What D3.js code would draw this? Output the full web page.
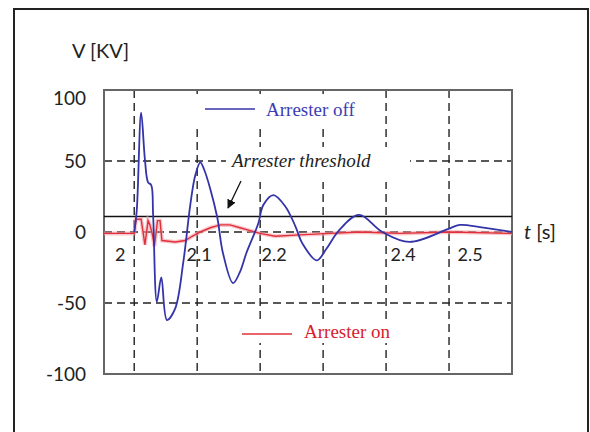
<!DOCTYPE html>
<html>
<head>
<meta charset="utf-8">
<script src="https://cdn.jsdelivr.net/npm/d3@7"></script>
<style>
  body { margin: 0; background: #fff; }
  svg { display: block; }
</style>
</head>
<body>
<svg id="chart" width="590" height="432"></svg>
<script>
// Data (time in s, voltage in kV)
const offTime = [2.0, 2.004, 2.011, 2.017, 2.022, 2.027, 2.030, 2.036, 2.043, 2.052, 2.065, 2.078, 2.089, 2.097, 2.105, 2.111, 2.121, 2.132, 2.141, 2.157, 2.168, 2.178, 2.197, 2.205, 2.221, 2.240, 2.256, 2.267, 2.290, 2.305, 2.325, 2.357, 2.394, 2.437, 2.498, 2.517, 2.549, 2.6];
const offVolt = [0, 15, 84, 51, 35, 33, 12, -49, -32, -62, -54, -21, 19, 40, 49, 44, 30, 10, -15, -36, -28, -15, 6, 19, 26, 18, 4, -8, -20, -12, 1, 12, 0, -7, 2, 5, 3.5, 0];

const onTime = [1.952, 2.0, 2.003, 2.011, 2.017, 2.022, 2.025, 2.029, 2.032, 2.037, 2.041, 2.044, 2.065, 2.081, 2.092, 2.105, 2.121, 2.137, 2.152, 2.168, 2.184, 2.2, 2.224, 2.263, 2.311, 2.359, 2.422, 2.502, 2.6];
const onVolt = [-1, -1, 9, 9, -9, 8, 5, -2, -10, 8, 8, -6, -7, -6, -3, 0, 3, 5, 5, 3, 1, -1, -3, -2, -1, 0, -1, 0, -1];

const thresholdVolt = 11;
const xTicks = [2, 2.1, 2.2, 2.3, 2.4, 2.5];
const xTickLabels = ["2", "2.1", "2.2", "", "2.4", "2.5"];
const yTicks = [100, 50, 0, -50, -100];
const yGrid = [50, 0, -50];

const svg = d3.select("#chart");

// outer frame
svg.append("rect")
  .attr("x", 14).attr("y", 9)
  .attr("width", 574).attr("height", 440)
  .attr("fill", "#fff")
  .attr("stroke", "#222")
  .attr("stroke-width", 2);

const plot = { left: 104, right: 512, top: 90, bottom: 374 };

const x = d3.scaleLinear().domain([1.952, 2.6]).range([plot.left, plot.right]);
const y = d3.scaleLinear().domain([-100, 100]).range([plot.bottom, plot.top]);

// dashed grid
svg.append("g")
  .selectAll("line")
  .data(xTicks)
  .enter()
  .append("line")
  .attr("x1", (d) => x(d)).attr("x2", (d) => x(d))
  .attr("y1", plot.top).attr("y2", plot.bottom)
  .attr("stroke", "#222")
  .attr("stroke-width", 1.4)
  .attr("stroke-dasharray", "8,5");

svg.append("g")
  .selectAll("line")
  .data(yGrid)
  .enter()
  .append("line")
  .attr("x1", plot.left).attr("x2", plot.right)
  .attr("y1", (d) => y(d)).attr("y2", (d) => y(d))
  .attr("stroke", "#222")
  .attr("stroke-width", 1.4)
  .attr("stroke-dasharray", "8,5");

// white boxes behind annotations (they hide the grid in the original)
svg.append("rect").attr("x", 190).attr("y", 94).attr("width", 180).attr("height", 30).attr("fill", "#fff");
svg.append("rect").attr("x", 226).attr("y", 147).attr("width", 184).attr("height", 35).attr("fill", "#fff");
svg.append("rect").attr("x", 240).attr("y", 321).attr("width", 166).attr("height", 22).attr("fill", "#fff");

// plot border
svg.append("rect")
  .attr("x", plot.left).attr("y", plot.top)
  .attr("width", plot.right - plot.left).attr("height", plot.bottom - plot.top)
  .attr("fill", "none")
  .attr("stroke", "#666")
  .attr("stroke-width", 2);

// threshold line
svg.append("line")
  .attr("x1", plot.left).attr("x2", plot.right)
  .attr("y1", y(thresholdVolt)).attr("y2", y(thresholdVolt))
  .attr("stroke", "#111")
  .attr("stroke-width", 1.5);

// Arrester on (red, with a soft halo)
const onData = onTime.map((t, i) => ({ t: t, v: onVolt[i] }));
const onLine = d3.line().x((d) => x(d.t)).y((d) => y(d.v)).curve(d3.curveLinear);
svg.append("path")
  .attr("d", onLine(onData))
  .attr("fill", "none")
  .attr("stroke", "#f4a0a8")
  .attr("stroke-width", 4)
  .attr("stroke-opacity", 0.6);
svg.append("path")
  .attr("d", onLine(onData))
  .attr("fill", "none")
  .attr("stroke", "#e0303a")
  .attr("stroke-width", 1.4);

// Arrester off (blue)
const offData = offTime.map((t, i) => ({ t: t, v: offVolt[i] }));
const offLine = d3.line().x((d) => x(d.t)).y((d) => y(d.v)).curve(d3.curveCatmullRom.alpha(0.5));
svg.append("path")
  .attr("d", offLine(offData))
  .attr("fill", "none")
  .attr("stroke", "#3434a8")
  .attr("stroke-width", 1.8);

// y tick labels
svg.append("g")
  .selectAll("text")
  .data(yTicks)
  .enter()
  .append("text")
  .attr("x", 86)
  .attr("y", (d) => Math.max(y(d), plot.top + 8))
  .attr("dy", "0.35em")
  .attr("text-anchor", "end")
  .style("font-family", "Lato, 'Open Sans', sans-serif")
  .style("font-size", "19px")
  .style("fill", "#222")
  .text((d) => d);

// x tick labels (placed beside the grid lines, as in the original)
const xLabelShift = [-14, 2, 14, 0, 17, 21];
svg.append("g")
  .selectAll("text")
  .data(xTicks)
  .enter()
  .append("text")
  .attr("x", (d, i) => x(d) + xLabelShift[i])
  .attr("y", 255)
  .attr("dy", "0.35em")
  .attr("text-anchor", "middle")
  .style("font-family", "Lato, 'Open Sans', sans-serif")
  .style("font-size", "18px")
  .style("fill", "#222")
  .text((d, i) => xTickLabels[i]);

// axis titles
svg.append("text")
  .attr("x", 72).attr("y", 58)
  .style("font-family", "Lato, 'Open Sans', sans-serif")
  .style("font-size", "20px")
  .style("fill", "#222")
  .text("V [KV]");

const tLabel = svg.append("text")
  .attr("x", 524).attr("y", 232)
  .attr("dy", "0.35em")
  .style("font-family", "Lato, 'Open Sans', sans-serif")
  .style("font-size", "20px")
  .style("fill", "#222");
tLabel.append("tspan").style("font-style", "italic").text("t");
tLabel.append("tspan").text(" [s]");

// legends
svg.append("line")
  .attr("x1", 205).attr("x2", 255)
  .attr("y1", 109).attr("y2", 109)
  .attr("stroke", "#3434a8").attr("stroke-width", 1.5);
svg.append("text")
  .attr("x", 266).attr("y", 109)
  .attr("dy", "0.35em")
  .style("font-family", "'Liberation Serif', serif")
  .style("font-size", "19px")
  .style("fill", "#3c3cb4")
  .text("Arrester off");

svg.append("line")
  .attr("x1", 242).attr("x2", 292)
  .attr("y1", 334).attr("y2", 334)
  .attr("stroke", "#e0303a").attr("stroke-width", 1.5);
svg.append("text")
  .attr("x", 304).attr("y", 331)
  .attr("dy", "0.35em")
  .style("font-family", "'Liberation Serif', serif")
  .style("font-size", "19px")
  .style("fill", "#d8202c")
  .text("Arrester on");

// threshold annotation with arrow
svg.append("defs")
  .append("marker")
  .attr("id", "arrow")
  .attr("viewBox", "0 0 10 10")
  .attr("refX", 9).attr("refY", 5)
  .attr("markerWidth", 7).attr("markerHeight", 7)
  .attr("orient", "auto")
  .append("path")
  .attr("d", "M0,0 L10,5 L0,10 z")
  .attr("fill", "#111");

svg.append("text")
  .attr("x", 232).attr("y", 160)
  .attr("dy", "0.35em")
  .style("font-family", "'Liberation Serif', serif")
  .style("font-style", "italic")
  .style("font-size", "19px")
  .style("fill", "#222")
  .text("Arrester threshold");

svg.append("line")
  .attr("x1", 241).attr("y1", 181)
  .attr("x2", 228).attr("y2", 208)
  .attr("stroke", "#111")
  .attr("stroke-width", 1.3)
  .attr("marker-end", "url(#arrow)");
</script>
</body>
</html>
